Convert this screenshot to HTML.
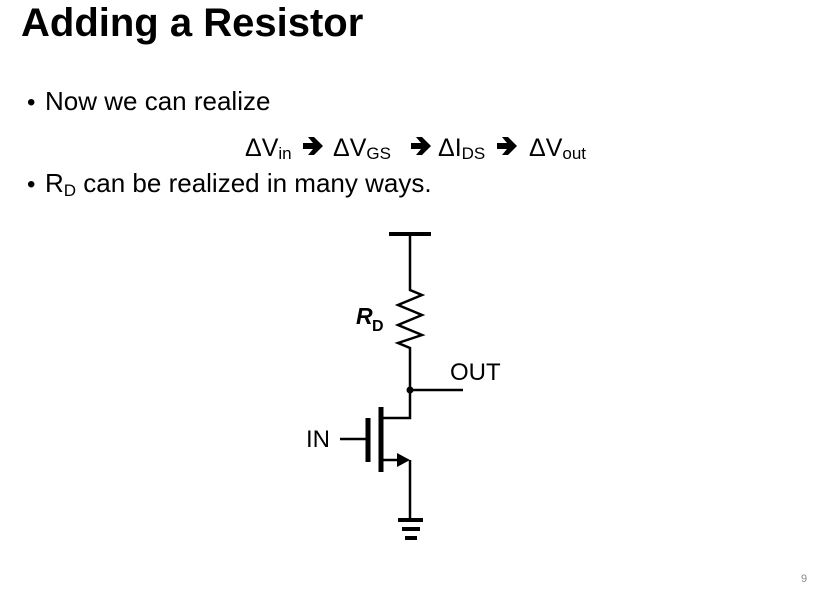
<!DOCTYPE html>
<html><head><meta charset="utf-8"><style>
html,body{margin:0;padding:0;background:#fff}
svg{display:block}
text{font-family:"Liberation Sans",Arial,sans-serif;fill:#000}
</style></head><body>
<svg width="817" height="590" viewBox="0 0 817 590" xmlns="http://www.w3.org/2000/svg">
<text x="21" y="36" font-size="40" font-weight="bold">Adding a Resistor</text>
<text x="27" y="110" font-size="24">•</text>
<text x="45" y="110" font-size="26">Now we can realize</text>
<g font-size="25">
<text x="245" y="156">ΔV<tspan font-size="17" dy="3">in</tspan></text>
<text x="333" y="156">ΔV<tspan font-size="17" dy="3">GS</tspan></text>
<text x="438" y="156">ΔI<tspan font-size="17" dy="3">DS</tspan></text>
<text x="529" y="156">ΔV<tspan font-size="17" dy="3">out</tspan></text>
</g>
<g fill="#000">
<path d="M303 143h10l-5-6h6l9 9-9 9h-6l5-6h-10z"/>
<path d="M411 143h10l-5-6h6l9 9-9 9h-6l5-6h-10z"/>
<path d="M497 143h10l-5-6h6l9 9-9 9h-6l5-6h-10z"/>
</g>
<text x="27" y="192" font-size="24">•</text>
<text x="45" y="192" font-size="26">R<tspan font-size="17" dy="4">D</tspan><tspan dy="-4"> can be realized in many ways.</tspan></text>

<g stroke="#000" fill="none" stroke-width="2.5">
<line x1="389" y1="234" x2="431" y2="234" stroke-width="4"/>
<polyline points="410,234 410,290 422,295 398,305 422,315 398,325 422,335 398,343 410,348 410,418 383,418"/>
<line x1="410" y1="390" x2="463" y2="390"/>
<line x1="381" y1="407" x2="381" y2="472" stroke-width="5"/>
<line x1="368" y1="418" x2="368" y2="462" stroke-width="5"/>
<line x1="340" y1="439" x2="368" y2="439"/>
<polyline points="383,460 400,460"/>
<line x1="410" y1="460" x2="410" y2="518"/>
<line x1="398" y1="520" x2="423" y2="520" stroke-width="4"/>
<line x1="402" y1="529" x2="420" y2="529" stroke-width="4"/>
<line x1="405" y1="538" x2="417" y2="538" stroke-width="4"/>
</g>
<circle cx="410" cy="390" r="3.5" fill="#000"/>
<path d="M397 453L410 460L397 467z" fill="#000"/>
<text x="356" y="324" font-size="23" font-weight="bold" font-style="italic">R</text>
<text x="372" y="331" font-size="16" font-weight="bold">D</text>
<text x="450" y="380" font-size="24">OUT</text>
<text x="306" y="447" font-size="24">IN</text>
<text x="801" y="582" font-size="11" style="fill:#888">9</text>
</svg>
</body></html>
